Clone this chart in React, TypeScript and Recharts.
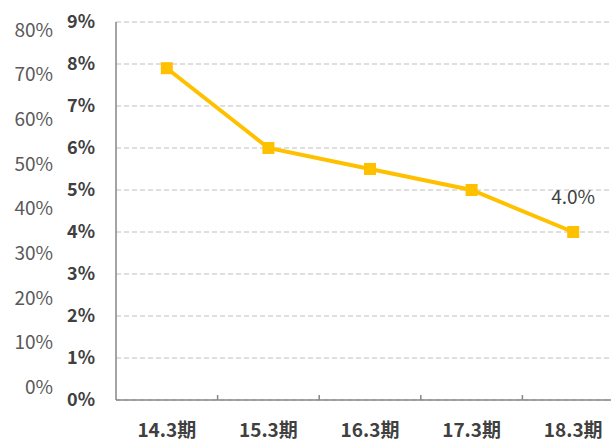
import * as React from "react";
import { LineChart, Line, XAxis, YAxis, CartesianGrid, LabelList } from "recharts";

const periods = ["14.3期", "15.3期", "16.3期", "17.3期", "18.3期"];
const ratio = [7.9, 6.0, 5.5, 5.0, 4.0];
const innerTicks = [0, 1, 2, 3, 4, 5, 6, 7, 8, 9];
const outerTicks = [0, 10, 20, 30, 40, 50, 60, 70, 80];

const chartData = periods.map((p, i) => ({ period: p, ratio: ratio[i] }));

const FONT = '"Noto Sans CJK JP", "Noto Sans", sans-serif';
const AXIS_GRAY = "#868686";

const SquareDot = (props: any) => {
    const { cx, cy } = props;
    if (cx == null || cy == null) return null;
    return <rect x={cx - 6} y={cy - 6} width={12} height={12} fill="#FFC000" />;
};

const PeriodTick = (props: any) => {
    const { x, y, payload } = props;
    const half = payload && payload.offset ? payload.offset : 50.8;
    return (
        <g>
            {payload.index > 0 ? (
                <line x1={x - half} y1={y} x2={x - half} y2={y - 5} stroke={AXIS_GRAY} strokeWidth={1.5} />
            ) : null}
            <text x={x} y={y + 37} textAnchor="middle" fontFamily={FONT} fontWeight="bold" fontSize={19} fill="#404040">
                {payload.value}
            </text>
        </g>
    );
};

const LastLabel = (props: any) => {
    const { x, y, index, value } = props;
    if (index !== ratio.length - 1) return null;
    return (
        <text x={x} y={y - 28} textAnchor="middle" fontFamily={FONT} fontSize={19} fill="#404040">
            {Number(value).toFixed(1) + "%"}
        </text>
    );
};

export default function App() {
    return (
        <div style={{ position: "absolute", left: 0, top: 0, width: 611, height: 443, overflow: "hidden", background: "#fff" }}>
            <LineChart width={624} height={443} data={chartData} margin={{ top: 22, right: 0, left: 0, bottom: 0 }}>
                <CartesianGrid yAxisId="a" vertical={false} stroke="#bfbfbf" strokeDasharray="5 3" />
                <XAxis
                    dataKey="period"
                    scale="band"
                    height={43}
                    axisLine={{ stroke: AXIS_GRAY, strokeWidth: 1.5 }}
                    tickLine={false}
                    tickSize={0}
                    tickMargin={0}
                    tick={<PeriodTick />}
                    interval={0}
                />
                <YAxis
                    yAxisId="a"
                    width={56}
                    domain={[0, 9]}
                    ticks={innerTicks}
                    interval={0}
                    tickFormatter={(v: number) => `${v}%`}
                    axisLine={{ stroke: AXIS_GRAY, strokeWidth: 1.5 }}
                    tickLine={false}
                    tickSize={0}
                    tickMargin={21}
                    tick={{ fontFamily: FONT, fontWeight: "bold", fontSize: 18, fill: "#404040" }}
                />
                <YAxis
                    yAxisId="b"
                    width={60}
                    domain={[-2.9, 81.8]}
                    ticks={outerTicks}
                    interval={0}
                    allowDataOverflow
                    tickFormatter={(v: number) => `${v}%`}
                    axisLine={false}
                    tickLine={false}
                    tickSize={0}
                    tickMargin={7}
                    tick={{ fontFamily: FONT, fontSize: 19, fill: "#595959" }}
                />
                <Line
                    yAxisId="a"
                    type="linear"
                    dataKey="ratio"
                    stroke="#FFC000"
                    strokeWidth={4}
                    dot={<SquareDot />}
                    activeDot={false}
                    isAnimationActive={false}
                >
                    <LabelList dataKey="ratio" content={<LastLabel />} />
                </Line>
            </LineChart>
        </div>
    );
}
